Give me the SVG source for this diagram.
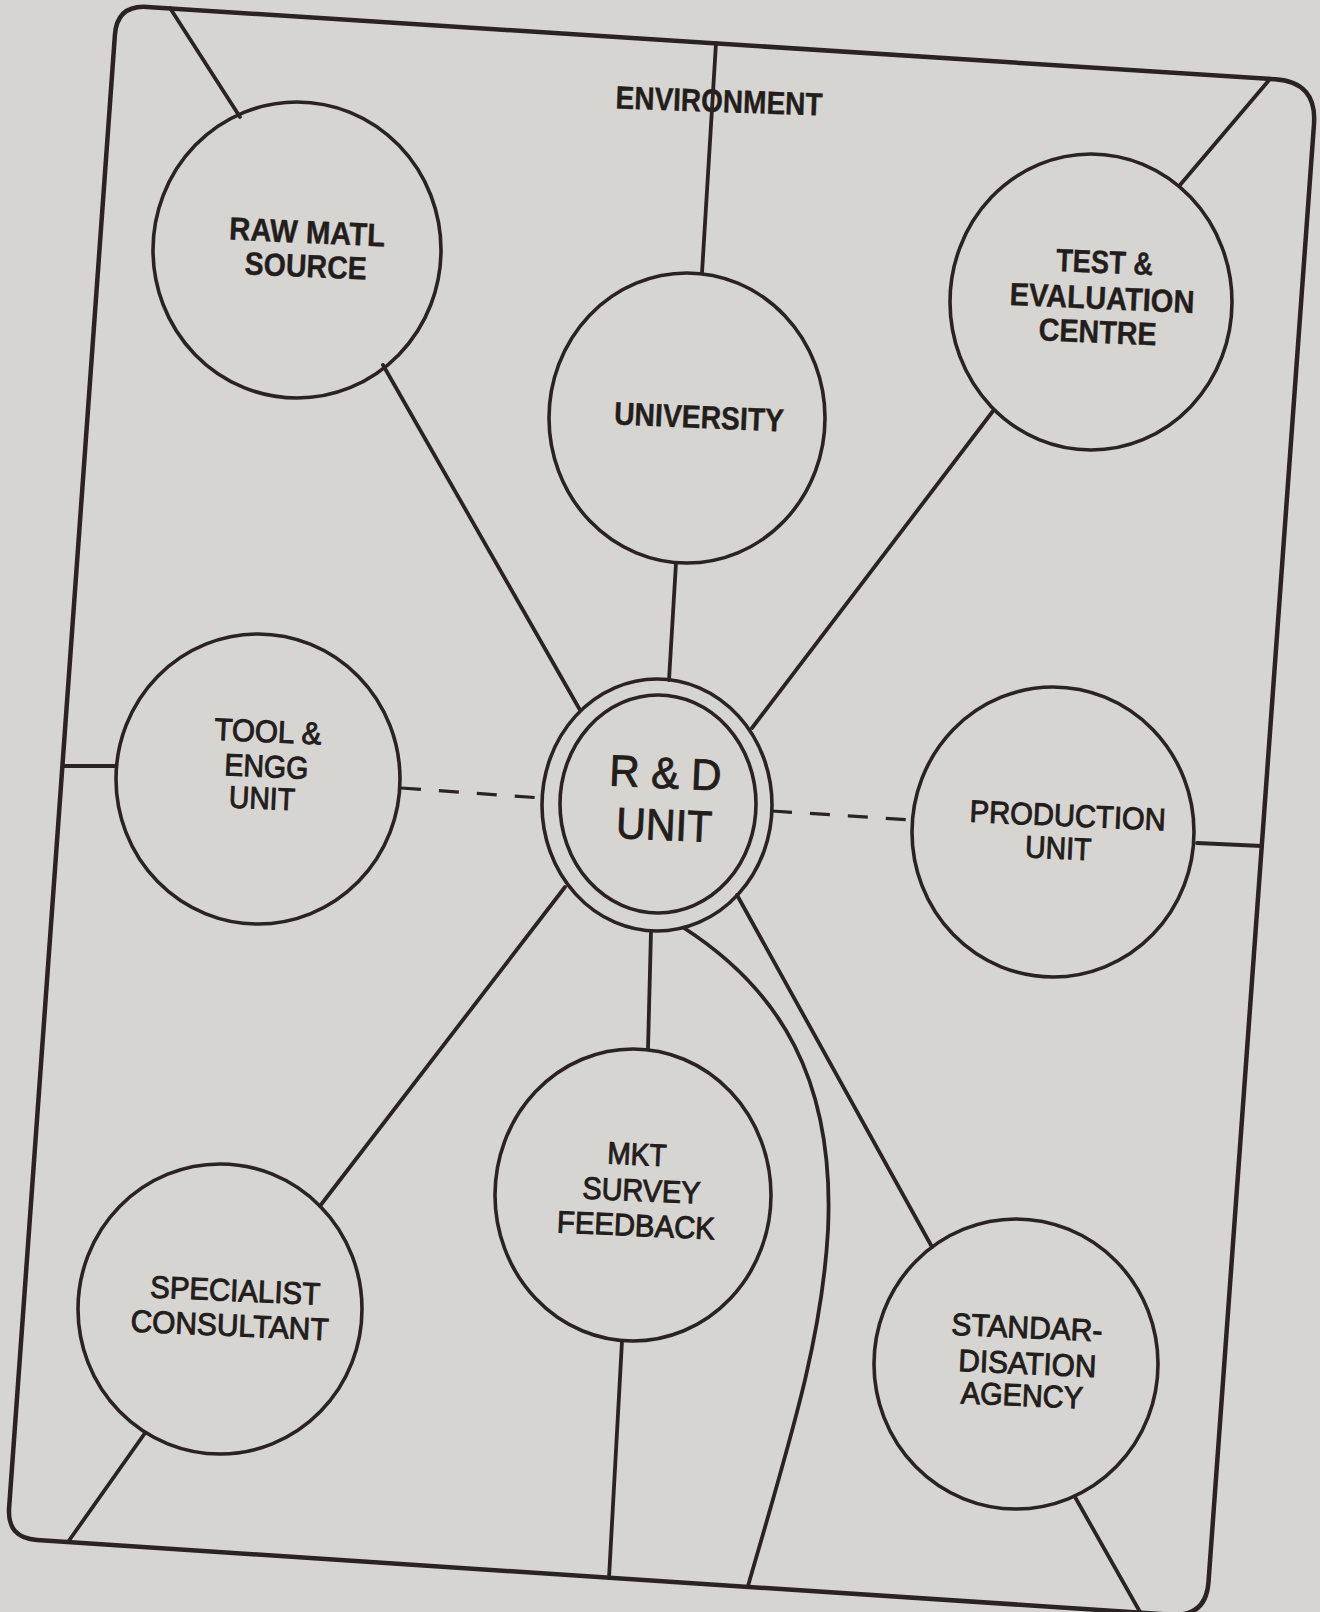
<svg xmlns="http://www.w3.org/2000/svg" width="1320" height="1612" viewBox="0 0 1320 1612">
<style>
.bg{fill:#d7d5d2}
.frame{fill:none;stroke:#2a2321;stroke-width:4.5;stroke-linejoin:round}
.node{fill:none;stroke:#2a2321;stroke-width:3.6}
.c{fill:none;stroke:#2a2321;stroke-width:3.8;stroke-linecap:round}
.d{fill:none;stroke:#2a2321;stroke-width:3.2;stroke-dasharray:20 18}
text{font-family:"Liberation Sans",Arial,sans-serif;fill:#231d1b;text-anchor:middle}
.b{font-size:32px;font-weight:bold;stroke:#231d1b;stroke-width:0.4}
.m{font-size:31px;font-weight:normal;stroke:#231d1b;stroke-width:1}
.r{font-size:44px;font-weight:normal;stroke:#231d1b;stroke-width:0.9}
</style>
<rect class="bg" x="0" y="0" width="1320" height="1612"/>
<path id="frame" class="frame" d="M114.9,35 Q117,5 147,6.9 L1275,79.3 Q1317,82 1314,124 L1208.5,1582 Q1206,1617 1171,1614.7 L37,1540 Q7,1538 9.1,1508 Z"/>
<text class="b" x="719" y="112" textLength="207" lengthAdjust="spacingAndGlyphs" transform="rotate(2 719 103)">ENVIRONMENT</text>
<g id="connectors">
<line class="c" x1="170" y1="8" x2="240" y2="117"/>
<line class="c" x1="383" y1="365" x2="580" y2="710"/>
<line class="c" x1="716" y1="43" x2="702" y2="273"/>
<line class="c" x1="676" y1="563" x2="669" y2="680"/>
<line class="c" x1="1270" y1="79" x2="1180" y2="185"/>
<line class="c" x1="993" y1="411" x2="752" y2="728"/>
<line class="c" x1="63" y1="766" x2="116" y2="766"/>
<line class="d" x1="401" y1="788" x2="542" y2="798"/>
<line class="d" x1="772" y1="811" x2="912" y2="820"/>
<line class="c" x1="1197" y1="843" x2="1262" y2="846"/>
<line class="c" x1="565" y1="887" x2="320" y2="1206"/>
<line class="c" x1="651" y1="931" x2="648" y2="1049"/>
<line class="c" x1="737" y1="895" x2="932" y2="1247"/>
<path class="c" d="M684,928 C780,990 835,1080 828,1230 C822,1340 790,1440 748,1586"/>
<line class="c" x1="622" y1="1341" x2="609" y2="1578"/>
<line class="c" x1="145" y1="1433" x2="68" y2="1542"/>
<line class="c" x1="1075" y1="1497" x2="1140" y2="1612"/>
</g>
<g id="raw-matl-source">
<ellipse class="node" cx="297" cy="250" rx="144" ry="148"/>
<g transform="rotate(2.5 306 260)">
<text class="b" x="306" y="243" textLength="156" lengthAdjust="spacingAndGlyphs">RAW MATL</text>
<text class="b" x="306" y="277" textLength="122" lengthAdjust="spacingAndGlyphs">SOURCE</text>
</g>
</g>
<g id="university">
<ellipse class="node" cx="687" cy="418" rx="138" ry="145"/>
<text class="b" x="699" y="428" textLength="170" lengthAdjust="spacingAndGlyphs" transform="rotate(2.5 699 418)">UNIVERSITY</text>
</g>
<g id="test-evaluation-centre">
<ellipse class="node" cx="1091" cy="302" rx="141" ry="148"/>
<g transform="rotate(2.5 1101 300)">
<text class="b" x="1103" y="273" textLength="97" lengthAdjust="spacingAndGlyphs">TEST &amp;</text>
<text class="b" x="1102" y="309" textLength="185" lengthAdjust="spacingAndGlyphs">EVALUATION</text>
<text class="b" x="1099" y="343" textLength="118" lengthAdjust="spacingAndGlyphs">CENTRE</text>
</g>
</g>
<g id="tool-engg-unit">
<ellipse class="node" cx="258" cy="779" rx="142" ry="145"/>
<g transform="rotate(2.5 265 775)">
<text class="m" x="266" y="742" textLength="107" lengthAdjust="spacingAndGlyphs">TOOL &amp;</text>
<text class="m" x="266" y="777" textLength="84" lengthAdjust="spacingAndGlyphs">ENGG</text>
<text class="m" x="263" y="809" textLength="66" lengthAdjust="spacingAndGlyphs">UNIT</text>
</g>
</g>
<g id="rd-unit">
<ellipse class="node" cx="657" cy="805" rx="115" ry="126"/>
<ellipse class="node" cx="658" cy="804" rx="98" ry="109"/>
<g transform="rotate(2.5 664 805)">
<text class="r" x="664" y="788" textLength="112" lengthAdjust="spacingAndGlyphs">R &amp; D</text>
<text class="r" x="665" y="840" textLength="96" lengthAdjust="spacingAndGlyphs">UNIT</text>
</g>
</g>
<g id="production-unit">
<ellipse class="node" cx="1053" cy="832" rx="141" ry="145"/>
<g transform="rotate(2.5 1064 832)">
<text class="m" x="1067" y="826" textLength="196" lengthAdjust="spacingAndGlyphs">PRODUCTION</text>
<text class="m" x="1059" y="859" textLength="66" lengthAdjust="spacingAndGlyphs">UNIT</text>
</g>
</g>
<g id="mkt-survey-feedback">
<ellipse class="node" cx="633" cy="1195" rx="138" ry="146"/>
<g transform="rotate(2.5 638 1200)">
<text class="m" x="635" y="1165" textLength="59" lengthAdjust="spacingAndGlyphs">MKT</text>
<text class="m" x="641" y="1201" textLength="118" lengthAdjust="spacingAndGlyphs">SURVEY</text>
<text class="m" x="637" y="1236" textLength="158" lengthAdjust="spacingAndGlyphs">FEEDBACK</text>
</g>
</g>
<g id="specialist-consultant">
<ellipse class="node" cx="220" cy="1309" rx="142" ry="145"/>
<g transform="rotate(2.5 232 1318)">
<text class="m" x="234" y="1301" textLength="170" lengthAdjust="spacingAndGlyphs">SPECIALIST</text>
<text class="m" x="230" y="1336" textLength="198" lengthAdjust="spacingAndGlyphs">CONSULTANT</text>
</g>
</g>
<g id="standardisation-agency">
<ellipse class="node" cx="1016" cy="1364" rx="142" ry="145"/>
<g transform="rotate(2.5 1025 1372)">
<text class="m" x="1025" y="1338" textLength="151" lengthAdjust="spacingAndGlyphs">STANDAR-</text>
<text class="m" x="1027" y="1374" textLength="138" lengthAdjust="spacingAndGlyphs">DISATION</text>
<text class="m" x="1023" y="1406" textLength="122" lengthAdjust="spacingAndGlyphs">AGENCY</text>
</g>
</g>
</svg>
